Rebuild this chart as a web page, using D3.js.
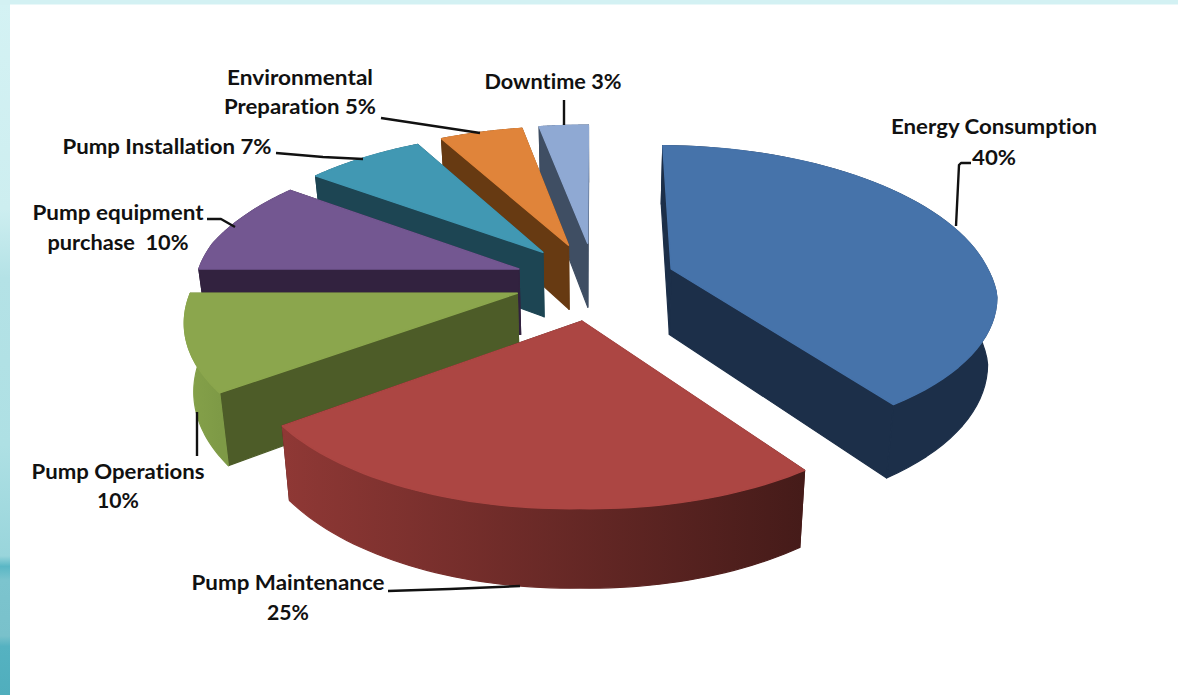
<!DOCTYPE html>
<html>
<head>
<meta charset="utf-8">
<style>
  html, body { margin: 0; padding: 0; background: #fff; overflow: hidden; }
  text { font-family: Lato, "Noto Sans", sans-serif; font-weight: 700; fill: #111; font-variant-ligatures: none; }
</style>
<script src="https://cdnjs.cloudflare.com/ajax/libs/d3/7.8.5/d3.min.js"></script>
</head>
<body>
<svg id="chart" width="1178" height="695"></svg>
<script>
// Life-cycle cost shares of a pump system, in percent.
const categories = ["Energy Consumption", "Pump Maintenance", "Pump Operations",
  "Pump equipment purchase", "Pump Installation", "Environmental Preparation", "Downtime"];
const shares = [40, 25, 10, 10, 7, 5, 3];

// Slice styling, same order as the categories.
const topColors  = ["#4673aa", "#ac4643", "#8ba64d", "#735791", "#4198b3", "#e0843a", "#8fa9d3"];
const wallColors = ["#1c2f49", "#4f1f1c", "#4d5c28", "#32223f", "#1d4553", "#673a12", "#3f4e63"];
const rimFrom    = ["#1c2f49", "#8f3835", "#86a24a", "#32223f", "#1d4553", "#673a12", "#3f4e63"];
const rimTo      = ["#1c2f49", "#451b19", "#7e9a46", "#32223f", "#1d4553", "#673a12", "#3f4e63"];

// Painter's order: far wedges first, nearest last.
const paintOrder = [0, 6, 5, 4, 3, 2, 1];

// Label blocks: lines of text, centre x, baseline y, width of each line.
const labels = [
  { lines: ["Energy Consumption", "40%"], x: 994, y: [134, 165], w: [206, 44] },
  { lines: ["Pump Maintenance", "25%"], x: 288, y: [590, 620], w: [193, 42] },
  { lines: ["Pump Operations", "10%"], x: 118, y: [479, 508], w: [173, 42] },
  { lines: ["Pump equipment", "purchase  10%"], x: 118, y: [220, 250], w: [171, 141] },
  { lines: ["Pump Installation 7%"], x: 167, y: [154], w: [209] },
  { lines: ["Environmental", "Preparation 5%"], x: 300, y: [85, 114], w: [146, 152] },
  { lines: ["Downtime 3%"], x: 553, y: [89], w: [137] }
];

// Leader lines joining each label to its wedge.
const leaders = [
  [[971, 163], [961, 163], [959, 165], [956, 226]],
  [[388, 591], [450, 589], [520, 586]],
  [[197, 412], [197, 456]],
  [[207, 219], [221, 219], [235, 227]],
  [[276, 153], [323, 157], [363, 159]],
  [[381, 118], [480, 133]],
  [[564, 100], [564, 125]]
];

const svg = d3.select("#chart");
const defs = svg.append("defs");

// Backdrop: a teal band on the left and top with a white sheet laid over it.
const band = defs.append("linearGradient").attr("id", "band")
  .attr("x1", 0).attr("y1", 0).attr("x2", 0).attr("y2", 1);
[[0, "#d4f2f4"], [0.3, "#cdeef0"], [0.4, "#b4e2e6"], [0.64, "#aee0e4"], [0.8, "#99d5db"],
 [0.815, "#5ab7c5"], [0.835, "#7cc4ce"], [0.915, "#79c1cb"], [0.93, "#55b2c1"], [1, "#50aebd"]]
  .forEach(([o, c]) => band.append("stop").attr("offset", o).attr("stop-color", c));
svg.append("rect").attr("width", 1178).attr("height", 695).attr("fill", "url(#band)");
svg.append("rect").attr("x", 0).attr("y", 0).attr("width", 1178).attr("height", 5).attr("fill", "#d3f1f3");
svg.append("rect").attr("x", 10).attr("y", 4.5).attr("width", 1168).attr("height", 691).attr("fill", "#fff");

// Tilted-plane projection of the unit pie onto the page.
const centre = { x: 595, y: 281 };
const vanishY = -860;
const invNear = 1 / (centre.y - vanishY);
const invSlope = 0.000116;
const spreadX = 0.2835;
const explodeX = 0.25, explodeY = 0.26;
const depthY = 0.058;
const insetX = 0.977;
const farFlatten = 0.065, nearSwell = 0.025, flattenPeak = 10 * Math.PI / 180;

function project(X, Y, bottom) {
  const h = 1 / (invNear + invSlope * Y);
  const px = spreadX * X * h;
  return bottom
    ? [centre.x + px * insetX, vanishY + h * (1 + depthY)]
    : [centre.x + px, vanishY + h];
}

// Rim radius: slightly flattened on the far side, slightly fuller towards the near corners.
const rimRadius = t => 1 - farFlatten * Math.max(0, Math.cos(t - flattenPeak))
  + nearSwell * Math.max(0, -Math.cos(t)) * Math.abs(Math.sin(t));

const pie = d3.pie().sort(null).startAngle(0).endAngle(2 * Math.PI).value(d => d);
const arcs = pie(shares);
const line = d3.line();
const closed = pts => line(pts) + "Z";

paintOrder.forEach(i => {
  const a = arcs[i];
  const mid = (a.startAngle + a.endAngle) / 2;
  const ox = explodeX * Math.sin(mid), oy = explodeY * Math.cos(mid);
  const rimAngles = d3.range(0, 61).map(k => a.startAngle + (a.endAngle - a.startAngle) * k / 60);
  const rimPoint = (t, b) => project(ox + rimRadius(t) * Math.sin(t), oy + rimRadius(t) * Math.cos(t), b);

  const apexT = project(ox, oy, false), apexB = project(ox, oy, true);
  const rimT = rimAngles.map(t => rimPoint(t, false));
  const rimB = rimAngles.map(t => rimPoint(t, true));

  const gradId = "rim" + i;
  const grad = defs.append("linearGradient").attr("id", gradId)
    .attr("gradientUnits", "userSpaceOnUse")
    .attr("x1", d3.min(rimT, p => p[0])).attr("y1", 0)
    .attr("x2", d3.max(rimT, p => p[0])).attr("y2", 0);
  grad.append("stop").attr("offset", 0).attr("stop-color", rimFrom[i]);
  grad.append("stop").attr("offset", 1).attr("stop-color", rimTo[i]);

  const g = svg.append("g").attr("class", "slice").attr("data-name", categories[i]);

  const walls = [
    { pts: [apexT, rimT[0], rimB[0], apexB], fill: wallColors[i] },
    { pts: [apexT, rimT[60], rimB[60], apexB], fill: wallColors[i] },
    { pts: rimT.concat(rimB.slice().reverse()), fill: `url(#${gradId})` }
  ];
  walls.sort((p, q) => d3.mean(p.pts, d => d[1]) - d3.mean(q.pts, d => d[1]));
  walls.forEach(w => g.append("path").attr("d", closed(w.pts)).attr("fill", w.fill)
    .attr("stroke", w.fill).attr("stroke-width", 1.2).attr("stroke-linejoin", "round"));

  g.append("path").attr("d", closed([apexT].concat(rimT))).attr("fill", topColors[i])
    .attr("stroke", topColors[i]).attr("stroke-width", 1.4).attr("stroke-linejoin", "round");
});

// Leader lines.
const curve = d3.line().curve(d3.curveLinear);
svg.selectAll("path.leader").data(leaders).join("path").attr("class", "leader")
  .attr("d", d => curve(d)).attr("fill", "none").attr("stroke", "#111")
  .attr("stroke-width", 2.4).attr("stroke-linejoin", "round");

// Labels, each line fitted to its measured width.
labels.forEach(l => {
  l.lines.forEach((t, j) => {
    svg.append("text").attr("x", l.x).attr("y", l.y[j]).attr("text-anchor", "middle")
      .attr("font-size", 21).attr("textLength", l.w[j]).attr("lengthAdjust", "spacingAndGlyphs")
      .attr("xml:space", "preserve").text(t);
  });
});
</script>
</body>
</html>
